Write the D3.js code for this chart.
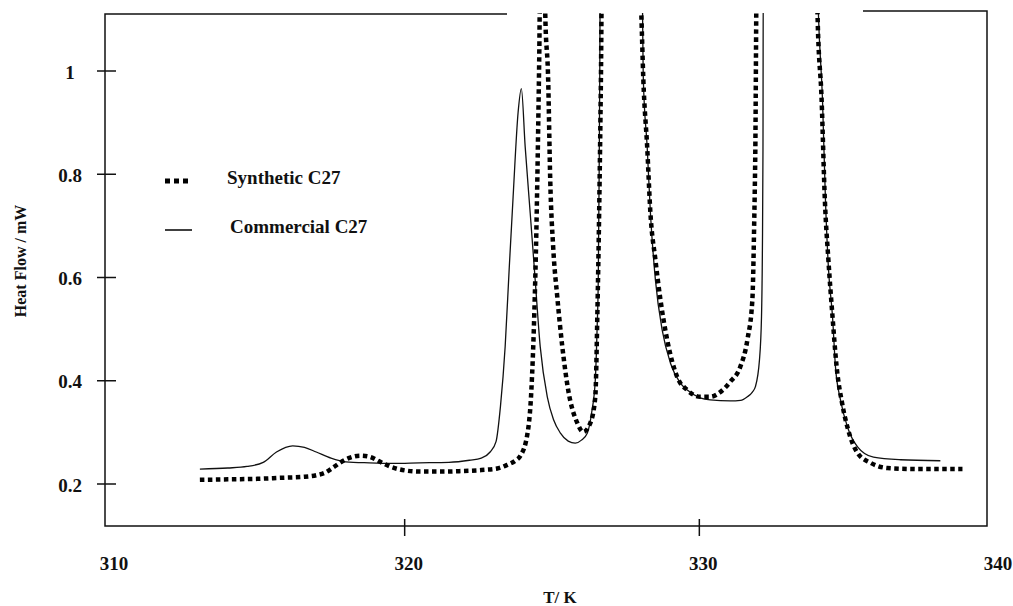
<!DOCTYPE html>
<html lang="en">
<head>
	<meta charset="utf-8">
	<script src="https://d3js.org/d3.v7.min.js"></script>
	<style type="text/css">
		body {
			margin: 0;
			background: #fff;
		}
		text {
			font-family: "Liberation Serif", "Times New Roman", serif;
			font-weight: bold;
			fill: #111;
		}
	</style>
</head>
<body>
	<script type="text/javascript">
	var width = 1013;
	var height = 606;

	// Synthetic C27 (dotted) - [T/K, heat flow/mW]
	var synthetic = [
		[313.05, 0.208], [314.0, 0.209], [315.0, 0.210], [315.8, 0.212], [316.6, 0.214],
		[317.0, 0.217], [317.3, 0.222], [317.6, 0.233], [317.8, 0.241], [318.1, 0.250],
		[318.5, 0.255], [318.8, 0.253], [319.17, 0.243], [319.5, 0.234], [319.85, 0.228],
		[320.5, 0.224], [321.2, 0.224], [321.9, 0.225], [322.6, 0.227], [323.14, 0.230],
		[323.48, 0.237], [323.75, 0.245], [323.92, 0.254], [324.16, 0.295], [324.30, 0.382],
		[324.40, 0.531], [324.47, 0.692], [324.53, 0.886], [324.57, 1.041], [324.6, 1.2],
		[324.75, 1.2], [324.77, 1.113], [324.87, 0.983], [324.94, 0.789], [325.04, 0.659],
		[325.18, 0.562], [325.35, 0.466], [325.55, 0.382], [325.86, 0.318], [326.06, 0.301],
		[326.30, 0.318], [326.47, 0.369], [326.54, 0.531], [326.60, 0.725], [326.66, 0.983],
		[326.70, 1.2], [327.98, 1.2], [328.03, 1.113], [328.10, 0.983], [328.23, 0.853],
		[328.34, 0.725], [328.51, 0.634], [328.68, 0.557], [328.91, 0.479], [329.25, 0.407],
		[329.59, 0.382], [330.03, 0.369], [330.37, 0.369], [330.71, 0.378], [331.05, 0.398],
		[331.39, 0.427], [331.63, 0.479], [331.80, 0.557], [331.86, 0.70], [331.90, 0.847],
		[331.95, 1.2], [333.98, 1.2], [334.01, 1.113], [334.15, 0.944], [334.26, 0.750],
		[334.38, 0.634], [334.52, 0.524], [334.66, 0.427], [334.85, 0.355], [335.05, 0.305],
		[335.37, 0.260], [335.81, 0.241], [336.38, 0.231], [337.40, 0.229], [338.93, 0.229]
	];

	// Commercial C27 (solid)
	var commercial = [
		[313.05, 0.229], [314.0, 0.231], [314.65, 0.234], [315.2, 0.242], [315.65, 0.262],
		[316.2, 0.274], [316.6, 0.271], [317.0, 0.262], [317.5, 0.250], [318.0, 0.243],
		[318.8, 0.241], [319.6, 0.240], [320.5, 0.241], [321.5, 0.242], [322.2, 0.246],
		[322.6, 0.250], [322.9, 0.262], [323.1, 0.282], [323.25, 0.35], [323.41, 0.466],
		[323.55, 0.62], [323.68, 0.756], [323.85, 0.92], [323.96, 0.966], [324.09, 0.853],
		[324.26, 0.725], [324.43, 0.595], [324.60, 0.466], [324.84, 0.369], [325.05, 0.325],
		[325.28, 0.299], [325.55, 0.283], [325.79, 0.279], [326.0, 0.285], [326.20, 0.299],
		[326.35, 0.34], [326.47, 0.402], [326.53, 0.5], [326.57, 0.595], [326.6, 0.8],
		[326.62, 0.983], [326.64, 1.2], [328.05, 1.2], [328.10, 0.983], [328.23, 0.853],
		[328.34, 0.725], [328.51, 0.595], [328.74, 0.498], [329.02, 0.434], [329.35, 0.396],
		[329.59, 0.382], [330.03, 0.367], [330.37, 0.363], [331.05, 0.361], [331.4, 0.362],
		[331.63, 0.369], [331.80, 0.378], [331.90, 0.388], [332.04, 0.440], [332.11, 0.524],
		[332.14, 0.653], [332.16, 0.85], [332.17, 1.2], [334.0, 1.2], [334.04, 1.113],
		[334.18, 0.944], [334.28, 0.750], [334.38, 0.620], [334.52, 0.524], [334.62, 0.427],
		[334.79, 0.363], [335.03, 0.310], [335.37, 0.272], [335.91, 0.252], [336.83, 0.247],
		[338.18, 0.245]
	];

	var xTicks = [310, 320, 330, 340];
	var xTickMarks = [320, 330];
	var yTicks = [0.2, 0.4, 0.6, 0.8, 1];
	var legendText = ["Synthetic C27", "Commercial C27"];

	var x = d3.scaleLinear().domain([310, 340]).range([110, 994]);
	var y = d3.scaleLinear().domain([0.2, 1]).range([484, 71]);

	var svg = d3.select("body")
				.append("svg")
				.attr("width", width)
				.attr("height", height);

	// frame (top edge is broken where the peaks run off the chart)
	var frame = svg.append("g")
				   .attr("fill", "none")
				   .attr("stroke", "#111")
				   .attr("stroke-width", 1.5);
	frame.append("path").attr("d", "M507,14 L105,14 L105,526 L987,526 L987,11 L863,11");

	svg.append("clipPath")
	   .attr("id", "plot")
	   .append("rect")
	   .attr("x", 105).attr("y", 13)
	   .attr("width", 882).attr("height", 513);

	var line = d3.line()
				 .curve(d3.curveMonotoneX)
				 .x(function(d) { return x(d[0]); })
				 .y(function(d) { return y(d[1]); });

	var curves = svg.append("g").attr("clip-path", "url(#plot)");

	curves.append("path")
		  .datum(commercial)
		  .attr("d", line)
		  .attr("fill", "none")
		  .attr("stroke", "#111")
		  .attr("stroke-width", 1.3);

	curves.append("path")
		  .datum(synthetic)
		  .attr("d", line)
		  .attr("fill", "none")
		  .attr("stroke", "#000")
		  .attr("stroke-width", 4.5)
		  .attr("stroke-dasharray", "4.5,3.5");

	// y ticks cross the axis
	svg.selectAll(".ytick")
	   .data(yTicks)
	   .enter()
	   .append("line")
	   .attr("x1", 97).attr("x2", 116)
	   .attr("y1", function(d) { return y(d); })
	   .attr("y2", function(d) { return y(d); })
	   .attr("stroke", "#111")
	   .attr("stroke-width", 1.5);

	svg.selectAll(".ylabel")
	   .data(yTicks)
	   .enter()
	   .append("text")
	   .attr("x", 70)
	   .attr("y", function(d) { return y(d); })
	   .attr("dy", "0.4em")
	   .attr("text-anchor", "middle")
	   .style("font-size", "19px")
	   .text(function(d) { return d3.format("~g")(d); });

	svg.selectAll(".xtick")
	   .data(xTickMarks)
	   .enter()
	   .append("line")
	   .attr("x1", function(d) { return x(d); })
	   .attr("x2", function(d) { return x(d); })
	   .attr("y1", 519).attr("y2", 536)
	   .attr("stroke", "#111")
	   .attr("stroke-width", 1.5);

	svg.selectAll(".xlabel")
	   .data(xTicks)
	   .enter()
	   .append("text")
	   .attr("x", function(d) { return x(d) + 4; })
	   .attr("y", 570)
	   .attr("text-anchor", "middle")
	   .style("font-size", "19px")
	   .text(function(d) { return d; });

	svg.append("text")
	   .attr("x", 560).attr("y", 603)
	   .attr("text-anchor", "middle")
	   .style("font-size", "17px")
	   .text("T/ K");

	svg.append("text")
	   .attr("transform", "translate(26,261) rotate(-90)")
	   .attr("text-anchor", "middle")
	   .style("font-size", "16px")
	   .text("Heat Flow / mW");

	// legend
	var legend = svg.selectAll(".legend")
					.data(legendText)
					.enter()
					.append("g")
					.attr("transform", function(d, i) { return "translate(165," + (181 + i * 49) + ")"; });

	legend.append("line")
		  .attr("x1", 0).attr("x2", function(d, i) { return i == 0 ? 26 : 27; })
		  .attr("stroke", "#000")
		  .attr("stroke-width", function(d, i) { return i == 0 ? 5 : 1.5; })
		  .attr("stroke-dasharray", function(d, i) { return i == 0 ? "5,4" : null; });

	legend.append("text")
		  .attr("x", function(d, i) { return i == 0 ? 62 : 65; })
		  .attr("y", 3)
		  .style("font-size", "19px")
		  .text(function(d) { return d; });
	</script>
</body>
</html>
